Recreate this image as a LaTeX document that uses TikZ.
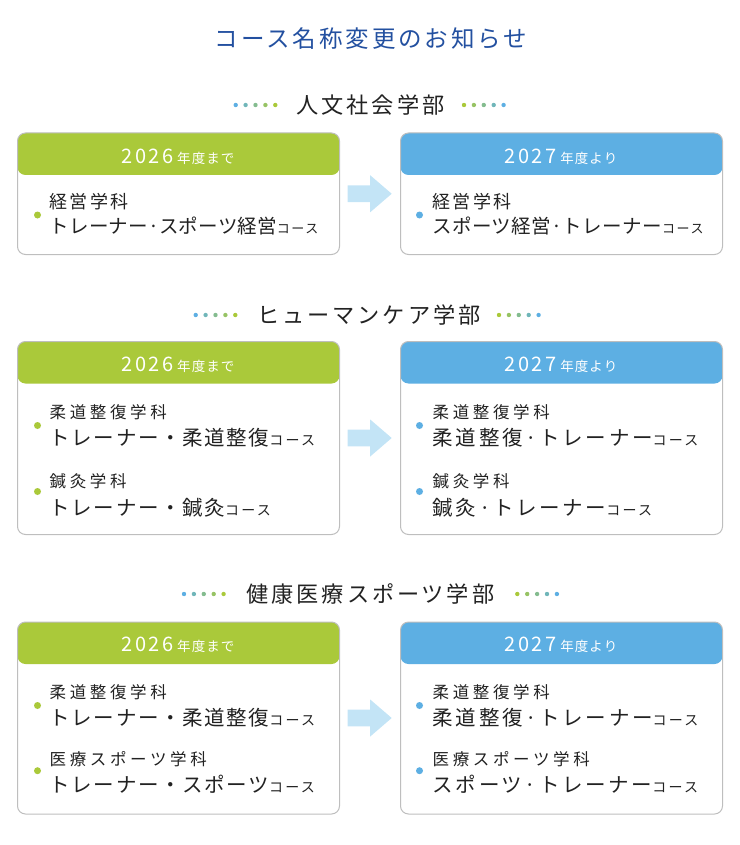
\documentclass[tikz,border=0pt]{standalone}
\usepackage{fontspec}
\setmainfont{Noto Sans CJK JP}
\usetikzlibrary{calc}
\definecolor{greenc}{RGB}{170,201,58}
\definecolor{bluec}{RGB}{93,175,227}
\definecolor{arrowc}{RGB}{195,228,246}
\definecolor{titlec}{RGB}{35,80,160}
\definecolor{textc}{RGB}{34,34,34}
\definecolor{borderc}{RGB}{190,190,190}
\colorlet{dc0}{bluec}
\colorlet{dc1}{bluec!75!greenc}
\colorlet{dc2}{bluec!50!greenc}
\colorlet{dc3}{bluec!25!greenc}
\colorlet{dc4}{greenc}
\newcommand\jt[3]{{\fontsize{#1pt}{#1pt}\selectfont\addfontfeature{LetterSpace=#2}#3}}
\newcommand\blockarrow[2]{\fill[arrowc] ($(#1)+(0,-8.3)$) -- ($(#2)+(-21.5,-8.3)$) -- ($(#2)+(-21.5,-18.5)$) -- (#2) -- ($(#2)+(-21.5,18.5)$) -- ($(#2)+(-21.5,8.3)$) -- ($(#1)+(0,8.3)$) -- cycle;}
\newcommand\leftdots[2]{\foreach \i in {0,...,4} \fill[dc\i] (#1+9.9*\i,#2) circle (2.2);}
\newcommand\rightdots[2]{\foreach \i in {0,...,4} {\pgfmathtruncatemacro\j{4-\i}\fill[dc\j] (#1+9.9*\i,#2) circle (2.2);}}
\newcommand\yrA{\jt{20}{12}{2026}\hspace{4pt}\jt{13.5}{8}{年度まで}}
\newcommand\yrB{\jt{20}{12}{2027}\hspace{4pt}\jt{13.5}{8}{年度より}}
\begin{document}
\begin{tikzpicture}[x=1pt,y=-1pt,
  box/.style={draw=borderc, line width=1pt, rounded corners=8pt, fill=white, inner sep=0pt, anchor=north west,
    minimum width=322pt,
    path picture={\fill[#1] (path picture bounding box.north west) rectangle ([yshift=-42pt]path picture bounding box.north east);}},
  hdr/.style={anchor=base, inner sep=0pt, text=white},
  line/.style={anchor=base west, inner sep=0pt, text=textc},
  secttl/.style={inner sep=0pt, text=textc},
  bul/.style={circle, fill=#1, minimum size=7pt, inner sep=0pt}]
\useasboundingbox (0,0) rectangle (739,845);
% title
\node[inner sep=0pt, text=titlec] (title) at (371,38.3) {\jt{23.5}{12.5}{コース名称変更のお知らせ}};

% ---------- section 1 ----------
\node[secttl] (h1) at (370.5,105) {\jt{22.2}{13}{人文社会学部}};
\leftdots{235.7}{105}
\rightdots{464}{105}
\node[box=greenc, minimum height=121.5pt] (L1) at (17,132.5) {};
\node[box=bluec, minimum height=121.5pt] (R1) at (400,132.5) {};
\node[hdr] (L1h) at (178,163.3) {\yrA};
\node[hdr] (R1h) at (561,163.3) {\yrB};
\node[bul=greenc] (L1b) at (37.5,215) {};
\node[line] (L1a1) at (49.5,208.3) {\jt{18}{12}{経営学科}};
\node[line] (L1a2) at (49.5,233.4) {\jt{19.5}{1}{トレーナー·スポーツ経営}\jt{13}{12}{コース}};
\node[bul=bluec] (R1b) at (419.5,215) {};
\node[line] (R1a1) at (432.5,208.3) {\jt{18}{12}{経営学科}};
\node[line] (R1a2) at (432.5,233.4) {\jt{19.5}{2}{スポーツ経営·トレーナー}\jt{13}{12}{コース}};
\coordinate (A1s) at ($(L1.east)+(7.5,0)$);
\coordinate (A1e) at ($(R1.west)+(-8.3,0)$);
\blockarrow{A1s}{A1e}

% ---------- section 2 ----------
\node[secttl] (h2) at (369,315) {\jt{22.2}{13}{ヒューマンケア学部}};
\leftdots{195.7}{315}
\rightdots{499}{315}
\node[box=greenc, minimum height=193pt] (L2) at (17,341) {};
\node[box=bluec, minimum height=193pt] (R2) at (400,341) {};
\node[hdr] (L2h) at (178,371) {\yrA};
\node[hdr] (R2h) at (561,371) {\yrB};
\node[bul=greenc] (L2b1) at (37.5,425.5) {};
\node[line] (L2a1) at (49.5,418) {\jt{16.5}{22}{柔道整復学科}};
\node[line] (L2a2) at (49.5,445.8) {\jt{20.5}{8}{トレーナー・柔道整復}\jt{14}{16}{コース}};
\node[bul=greenc] (L2b2) at (37.5,491.5) {};
\node[line] (L2c1) at (49.5,487.3) {\jt{16.5}{22}{鍼灸学科}};
\node[line] (L2c2) at (49.5,515.3) {\jt{20.5}{8}{トレーナー・鍼灸}\jt{14}{16}{コース}};
\node[bul=bluec] (R2b1) at (419.5,425.5) {};
\node[line] (R2a1) at (432.5,418) {\jt{16.5}{22}{柔道整復学科}};
\node[line] (R2a2) at (432.5,445.8) {\jt{20.5}{13}{柔道整復·トレーナー}\jt{14}{16}{コース}};
\node[bul=bluec] (R2b2) at (419.5,491.5) {};
\node[line] (R2c1) at (432.5,487.3) {\jt{16.5}{22}{鍼灸学科}};
\node[line] (R2c2) at (432.5,515.3) {\jt{20.5}{13}{鍼灸·トレーナー}\jt{14}{16}{コース}};
\coordinate (A2s) at ($(L2.east)+(7.5,0)$);
\coordinate (A2e) at ($(R2.west)+(-8.3,0)$);
\blockarrow{A2s}{A2e}

% ---------- section 3 ----------
\node[secttl] (h3) at (370.5,594) {\jt{22.2}{13}{健康医療スポーツ学部}};
\leftdots{184}{594}
\rightdots{517.3}{594}
\node[box=greenc, minimum height=192pt] (L3) at (17,621.5) {};
\node[box=bluec, minimum height=192pt] (R3) at (400,621.5) {};
\node[hdr] (L3h) at (178,651) {\yrA};
\node[hdr] (R3h) at (561,651) {\yrB};
\node[bul=greenc] (L3b1) at (37.5,705.5) {};
\node[line] (L3a1) at (49.5,698) {\jt{16.5}{22}{柔道整復学科}};
\node[line] (L3a2) at (49.5,725.8) {\jt{20.5}{8}{トレーナー・柔道整復}\jt{14}{16}{コース}};
\node[bul=greenc] (L3b2) at (37.5,770.7) {};
\node[line] (L3c1) at (49.5,765.3) {\jt{16.5}{22}{医療スポーツ学科}};
\node[line] (L3c2) at (49.5,792.8) {\jt{20.5}{8}{トレーナー・スポーツ}\jt{14}{16}{コース}};
\node[bul=bluec] (R3b1) at (419.5,705.5) {};
\node[line] (R3a1) at (432.5,698) {\jt{16.5}{22}{柔道整復学科}};
\node[line] (R3a2) at (432.5,725.8) {\jt{20.5}{13}{柔道整復·トレーナー}\jt{14}{16}{コース}};
\node[bul=bluec] (R3b2) at (419.5,770.7) {};
\node[line] (R3c1) at (432.5,765.3) {\jt{16.5}{22}{医療スポーツ学科}};
\node[line] (R3c2) at (432.5,792.8) {\jt{20.5}{13}{スポーツ·トレーナー}\jt{14}{16}{コース}};
\coordinate (A3s) at ($(L3.east)+(7.5,0)$);
\coordinate (A3e) at ($(R3.west)+(-8.3,0)$);
\blockarrow{A3s}{A3e}
\end{tikzpicture}
\end{document}
